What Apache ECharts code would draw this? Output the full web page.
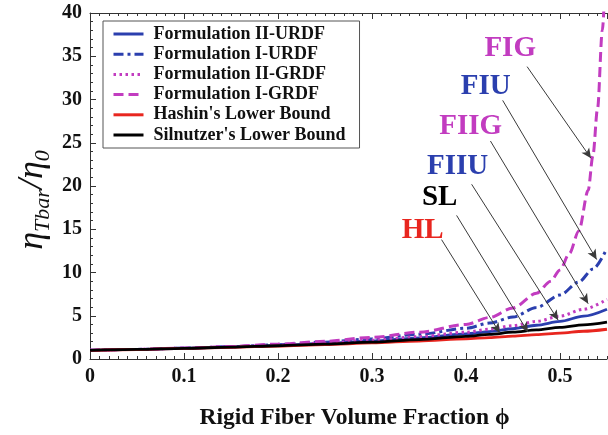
<!DOCTYPE html>
<html>
<head>
<meta charset="utf-8">
<script src="https://cdn.jsdelivr.net/npm/echarts@6/dist/echarts.min.js"></script>
<style>html,body{margin:0;padding:0;background:#fff}#c{width:608px;height:435px}</style>
</head>
<body>
<div id="c"></div>
<script>
// ---- data ----
const phiBase = [0, 0.05, 0.1, 0.15, 0.2, 0.25, 0.3, 0.35, 0.4, 0.425, 0.45, 0.475, 0.5, 0.525, 0.55];
const hashinLB    = [1, 1.10, 1.22, 1.35, 1.50, 1.67, 1.86, 2.08, 2.33, 2.48, 2.64, 2.81, 3.00, 3.21, 3.44];
const silnutzerLB = [1, 1.11, 1.23, 1.37, 1.53, 1.72, 1.96, 2.25, 2.62, 2.85, 3.10, 3.36, 3.65, 3.94, 4.25];
const formIIURDF  = [1, 1.11, 1.24, 1.39, 1.57, 1.80, 2.08, 2.45, 2.90, 3.17, 3.50, 3.90, 4.35, 4.95, 5.75];
const formIIGRDF  = [1, 1.11, 1.24, 1.40, 1.60, 1.85, 2.17, 2.58, 3.10, 3.45, 3.85, 4.35, 4.95, 5.75, 6.90];
const phiFIU = [0, 0.05, 0.1, 0.15, 0.2, 0.25, 0.3, 0.35, 0.4, 0.425, 0.45, 0.475, 0.5, 0.52, 0.535, 0.55];
const formIURDF   = [1, 1.11, 1.25, 1.42, 1.65, 1.95, 2.35, 2.85, 3.55, 4.15, 4.85, 5.95, 7.40, 8.90, 10.4, 12.8];
const phiFIG = [0, 0.05, 0.1, 0.15, 0.2, 0.25, 0.3, 0.35, 0.4, 0.425, 0.45, 0.475, 0.49, 0.5, 0.51, 0.52, 0.53, 0.535, 0.54, 0.545, 0.55];
const formIGRDF   = [1, 1.11, 1.26, 1.45, 1.72, 2.05, 2.50, 3.10, 4.00, 4.80, 5.90, 7.60, 9.00, 10.3, 12.2, 14.8, 19.5, 23.5, 29.0, 38.0, 50.0];

const seriesNames = ['Formulation II-URDF', 'Formulation I-URDF', 'Formulation II-GRDF',
  'Formulation I-GRDF', "Hashin's Lower Bound", "Silnutzer's Lower Bound"];

// annotation labels (data coordinates) and arrows
const annText = ['FIG', 'FIU', 'FIIG', 'FIIU', 'SL', 'HL'];
const annPhi  = [0.447, 0.421, 0.405, 0.391, 0.372, 0.354];
const annEta  = [35.9, 31.5, 26.9, 22.2, 18.7, 14.8];
const arrowFrom = [[0.465, 33.8], [0.439, 29.9], [0.426, 25.2], [0.406, 20.2], [0.390, 16.6], [0.374, 13.8]];
const arrowTo   = [[0.533, 23.2], [0.539, 11.5], [0.530, 6.4], [0.498, 4.5], [0.466, 3.1], [0.436, 3.0]];

const xTicks = [0, 0.1, 0.2, 0.3, 0.4, 0.5];
const yTicks = [0, 5, 10, 15, 20, 25, 30, 35, 40];

// ---- styles ----
const BLUE = '#2b3fae', MAG = '#c23cc0', RED = '#e8261f', BLACK = '#000';
const annColor = [MAG, BLUE, MAG, BLUE, BLACK, RED];
const serif = '"Liberation Serif", "DejaVu Serif", serif';

function zip(xs, ys) { return xs.map((x, i) => [x, ys[i]]); }

function lineSeries(name, xs, ys, color, type, width) {
  return {
    name, type: 'line', data: zip(xs, ys), showSymbol: false, symbol: 'none',
    smooth: 0.3, smoothMonotone: 'x', clip: true,
    lineStyle: { color, width: width || 2.6, type: type || 'solid' },
    itemStyle: { color }
  };
}

const chart = echarts.init(document.getElementById('c'), null, { renderer: 'canvas' });

const axisCommon = {
  type: 'value', min: 0, max: 0.55, gridIndex: 0,
  splitLine: { show: false }
};

const option = {
  animation: false,
  backgroundColor: '#fff',
  grid: { left: 90, right: 1, top: 13, bottom: 65, containLabel: false },
  legend: {
    data: seriesNames, orient: 'vertical', left: 103, top: 21,
    itemWidth: 30, itemHeight: 12, itemGap: 2.2,
    padding: [4, 14, 4, 9],
    borderColor: '#555', borderWidth: 1, backgroundColor: '#fff',
    itemStyle: { opacity: 0, color: 'rgba(0,0,0,0)', borderWidth: 0 },
    lineStyle: { width: 3 },
    textStyle: { fontFamily: serif, fontWeight: 'bold', fontSize: 18, lineHeight: 18, color: '#111', padding: [0, 0, 0, 5] }
  },
  graphic: [{
    type: 'text', x: 33, y: 200, rotation: Math.PI / 2, silent: true,
    style: {
      text: '{m|\u03b7}{s|Tbar}{m|/\u03b7}{s|0}', align: 'center', verticalAlign: 'middle',
      fill: '#111',
      rich: {
        m: { fontFamily: serif, fontStyle: 'italic', fontSize: 36, fill: '#111', fontWeight: 'normal' },
        s: { fontFamily: serif, fontStyle: 'italic', fontSize: 22, fill: '#111', padding: [20, 0, 0, 0] }
      }
    }
  }],
  xAxis: [
    Object.assign({}, axisCommon, {
      position: 'bottom', interval: 0.1,
      axisLine: { show: true, lineStyle: { color: '#333', width: 1 } },
      axisTick: { show: true, inside: true, length: 6, lineStyle: { color: '#333' } },
      axisLabel: {
        show: true, margin: 8, fontFamily: serif, fontWeight: 'bold', fontSize: 20, color: '#111',
        showMaxLabel: false,
        formatter: v => (xTicks.some(t => Math.abs(t - v) < 1e-9) ? String(v) : '')
      },
      name: 'Rigid Fiber Volume Fraction \u03d5', nameLocation: 'middle', nameGap: 47,
      nameTextStyle: { fontFamily: serif, fontWeight: 'bold', fontSize: 23.5, color: '#111', padding: [0, 0, 0, 12] }
    }),
    Object.assign({}, axisCommon, {
      position: 'bottom', interval: 0.01,
      axisLine: { show: false }, axisLabel: { show: false },
      axisTick: { show: true, inside: true, length: 3, lineStyle: { color: '#333' } }
    }),
    Object.assign({}, axisCommon, {
      position: 'top', interval: 0.1,
      axisLine: { show: true, lineStyle: { color: '#333', width: 1 } },
      axisLabel: { show: false },
      axisTick: { show: true, inside: true, length: 6, lineStyle: { color: '#333' } }
    }),
    Object.assign({}, axisCommon, {
      position: 'top', interval: 0.01,
      axisLine: { show: false }, axisLabel: { show: false },
      axisTick: { show: true, inside: true, length: 3, lineStyle: { color: '#333' } }
    })
  ],
  yAxis: [
    {
      type: 'value', min: 0, max: 40, interval: 5, position: 'left',
      splitLine: { show: false },
      axisLine: { show: true, lineStyle: { color: '#333', width: 1 } },
      axisTick: { show: true, inside: true, length: 6, lineStyle: { color: '#333' } },
      minorTick: { show: true, splitNumber: 5, length: 3, lineStyle: { color: '#333' } },
      axisLabel: {
        margin: 8, fontFamily: serif, fontWeight: 'bold', fontSize: 20, color: '#111',
        formatter: v => (yTicks.indexOf(v) >= 0 ? String(v) : '')
      }
    }
  ],
  series: [
    lineSeries(seriesNames[0], phiBase, formIIURDF, BLUE, 'solid', 2.8),
    lineSeries(seriesNames[1], phiFIU, formIURDF, BLUE, [10, 4, 3, 4], 3),
    lineSeries(seriesNames[2], phiBase, formIIGRDF, MAG, [2.5, 3.5], 3),
    lineSeries(seriesNames[3], phiFIG, formIGRDF, MAG, [10, 5], 3),
    lineSeries(seriesNames[4], phiBase, hashinLB, RED, 'solid', 2.8),
    lineSeries(seriesNames[5], phiBase, silnutzerLB, BLACK, 'solid', 2.8),
    {
      name: 'annotations', type: 'scatter', symbolSize: 0, silent: true, z: 10,
      itemStyle: { opacity: 1 },
      data: annText.map((t, i) => ({
        value: [annPhi[i], annEta[i]], name: t,
        label: { color: annColor[i] }
      })),
      label: {
        show: true, position: 'inside', formatter: p => p.name, opacity: 1,
        fontFamily: serif, fontWeight: 'bold', fontSize: 29
      },
      markLine: {
        silent: true, symbol: ['none', 'arrow'], symbolSize: [7, 10],
        label: { show: false },
        lineStyle: { color: '#3a3a3a', width: 1, type: 'solid', opacity: 1 },
        data: arrowFrom.map((f, i) => [{ coord: f }, { coord: arrowTo[i] }])
      }
    }
  ]
};
chart.setOption(option);
</script>
</body>
</html>
